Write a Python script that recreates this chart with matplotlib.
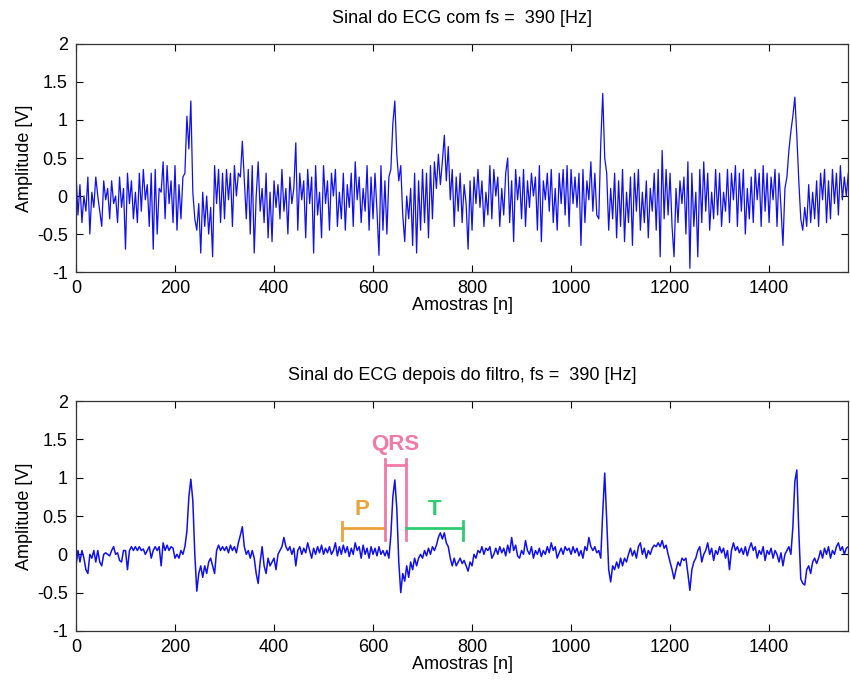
import numpy as np
import matplotlib
matplotlib.use("Agg")
import matplotlib.pyplot as plt

plt.rcParams["font.family"] = ["Liberation Sans", "DejaVu Sans"]

# sample index step used when reading the traces off the picture
step = 4

# raw ECG, one value every 4 samples (0 .. 1560)
raw = [
    0.30, -0.25, 0.15, -0.35, 0.00, -0.20, 0.25, -0.50, 0.05, -0.15, 0.25, 0.00, -0.20, -0.40, 0.20, -0.05, 0.10, -0.30, 0.20, -0.10, 0.00, -0.35, 0.25, -0.15, 0.10,
    -0.70, 0.30, -0.10, 0.20, -0.30, 0.05, -0.35, 0.30, -0.20, 0.35, -0.05, 0.15, -0.40, 0.30, -0.70, 0.35, -0.50, 0.10, 0.05, 0.45, -0.30, 0.40, -0.10, 0.20, -0.35,
    0.40, -0.45, 0.15, -0.30, 0.25, 0.30, 1.05, 0.62, 1.25, 0.05, -0.30, -0.45, -0.10, -0.75, 0.05, -0.40, 0.00, -0.50, -0.15, -0.80, 0.40, -0.10, 0.35, -0.35, 0.30,
    -0.30, 0.35, -0.05, 0.30, -0.40, 0.40, 0.00, 0.30, 0.25, 0.72, 0.20, -0.30, 0.35, -0.50, 0.40, -0.75, 0.00, 0.45, -0.20, 0.10, -0.35, 0.30, -0.55, 0.05, -0.60,
    0.20, -0.15, 0.15, -0.30, 0.35, -0.20, 0.10, -0.50, 0.25, -0.10, 0.10, 0.70, -0.45, 0.30, -0.05, 0.20, -0.55, 0.35, -0.10, 0.25, -0.75, 0.40, -0.25, 0.05, -0.55,
    0.40, -0.10, 0.20, -0.45, 0.30, 0.00, 0.35, -0.40, 0.05, -0.30, 0.30, -0.45, 0.15, -0.15, 0.30, -0.40, 0.45, -0.05, 0.25, -0.35, 0.10, -0.20, 0.40, -0.45, 0.25,
    -0.30, 0.30, -0.20, -0.78, 0.40, -0.45, 0.20, -0.50, 0.25, 0.35, 0.95, 1.25, 0.55, 0.20, 0.40, -0.25, -0.60, 0.00, -0.30, 0.10, -0.65, 0.30, -0.75, 0.20, -0.45,
    0.35, -0.35, 0.30, -0.55, 0.40, -0.30, 0.45, 0.10, 0.55, 0.15, 0.45, 0.80, 0.20, 0.65, -0.05, 0.35, -0.40, 0.25, -0.20, 0.30, -0.35, 0.15, -0.10, -0.70, 0.20,
    -0.45, 0.25, -0.10, 0.35, -0.15, 0.20, -0.40, 0.05, -0.25, 0.40, -0.30, 0.35, 0.00, 0.25, -0.40, 0.10, -0.25, 0.30, 0.50, -0.35, 0.20, -0.60, 0.35, -0.05, 0.25,
    -0.30, 0.35, -0.40, 0.20, -0.15, 0.30, 0.00, 0.25, -0.45, 0.40, -0.60, 0.20, -0.05, 0.30, -0.20, 0.35, -0.35, 0.10, -0.45, 0.30, -0.10, 0.35, -0.25, 0.40, -0.40,
    0.35, -0.10, 0.25, -0.15, 0.30, -0.65, 0.35, -0.35, 0.20, -0.05, 0.45, -0.20, 0.30, -0.25, -0.30, 0.70, 1.35, 0.50, 0.30, -0.45, 0.10, -0.30, 0.30, -0.55, 0.20,
    -0.40, 0.35, -0.60, 0.05, -0.35, 0.25, -0.65, 0.30, -0.20, 0.35, -0.45, 0.05, -0.35, 0.20, -0.55, 0.10, -0.20, 0.30, -0.45, 0.35, -0.80, 0.60, -0.30, 0.35, -0.25,
    0.30, -0.40, -0.80, 0.10, -0.35, 0.20, -0.10, 0.25, -0.50, 0.45, -0.95, 0.30, -0.40, 0.05, -0.80, 0.35, -0.35, 0.45, -0.20, 0.30, -0.45, 0.05, -0.30, 0.35, -0.25,
    0.30, -0.40, 0.05, -0.20, 0.35, -0.35, 0.30, -0.05, 0.40, -0.40, 0.30, -0.20, 0.35, -0.50, 0.10, -0.30, 0.25, -0.35, 0.35, -0.05, 0.30, -0.40, 0.40, -0.20, 0.30,
    -0.35, 0.25, -0.05, 0.35, -0.40, 0.30, -0.15, -0.65, 0.10, 0.25, 0.60, 0.85, 1.05, 1.30, 0.80, 0.20, -0.30, -0.45, -0.15, -0.40, 0.15, -0.35, 0.05, -0.30, 0.20,
    -0.40, 0.30, -0.05, 0.35, -0.35, 0.20, -0.30, 0.35, -0.10, 0.30, -0.25, 0.40, -0.05, 0.25, 0.00, 0.30,
]

# filtered ECG, same sampling
filt = [
    -0.15, 0.05, -0.10, 0.05, -0.05, -0.20, -0.25, 0.00, -0.05, 0.05, -0.10, 0.05, -0.10, -0.15, 0.00, 0.02, 0.00, -0.02, 0.05, 0.10, 0.00, 0.02, -0.08, -0.10, 0.05,
    0.05, -0.20, 0.05, 0.10, 0.05, 0.10, 0.05, 0.10, 0.05, 0.07, 0.00, 0.05, 0.10, -0.05, 0.05, 0.10, 0.05, 0.10, -0.15, 0.15, 0.05, 0.12, 0.05, 0.10, 0.08,
    -0.05, 0.00, -0.05, 0.05, 0.00, 0.10, 0.30, 0.75, 0.98, 0.70, 0.00, -0.48, -0.25, -0.15, -0.30, -0.15, -0.25, -0.10, -0.05, -0.15, -0.25, 0.05, 0.12, 0.05, 0.10,
    0.05, 0.10, 0.02, 0.12, 0.05, 0.10, 0.02, 0.15, 0.25, 0.36, 0.10, 0.00, 0.05, -0.05, 0.05, -0.05, -0.25, -0.38, -0.10, 0.10, -0.15, -0.25, -0.05, -0.15, -0.10,
    -0.05, -0.20, 0.00, 0.05, 0.10, 0.22, 0.10, 0.05, 0.10, 0.00, 0.08, -0.15, 0.05, 0.10, 0.00, 0.08, 0.02, 0.15, 0.05, -0.05, 0.08, 0.00, 0.10, 0.02, 0.12,
    0.00, 0.08, 0.02, 0.10, 0.00, 0.05, 0.15, -0.02, 0.10, 0.00, 0.12, 0.02, 0.10, -0.03, 0.08, 0.00, 0.15, 0.05, 0.10, -0.05, 0.12, 0.00, 0.08, -0.05, 0.10,
    0.00, 0.08, -0.02, 0.10, 0.00, 0.05, -0.02, 0.05, -0.05, 0.25, 0.75, 0.97, 0.60, -0.10, -0.50, -0.25, -0.35, -0.15, -0.30, -0.10, -0.20, -0.05, -0.15, -0.05, 0.00,
    -0.05, 0.05, -0.02, 0.08, 0.00, 0.10, 0.05, 0.12, 0.22, 0.28, 0.20, 0.28, 0.15, 0.10, -0.05, -0.15, -0.05, -0.15, -0.10, -0.05, -0.12, -0.08, -0.15, -0.22, -0.10,
    -0.15, 0.00, -0.05, 0.05, 0.02, 0.10, 0.00, 0.08, 0.05, 0.10, -0.05, 0.00, 0.08, 0.00, 0.10, 0.02, 0.08, -0.02, 0.12, 0.02, 0.22, 0.05, 0.12, -0.02, -0.05,
    0.05, 0.00, 0.18, 0.05, 0.00, 0.10, -0.05, 0.05, 0.00, 0.08, -0.03, 0.05, 0.00, 0.10, 0.02, 0.15, 0.05, 0.10, -0.05, 0.02, 0.08, 0.00, 0.10, 0.05, 0.08,
    0.00, 0.10, 0.02, 0.08, -0.02, 0.05, -0.05, 0.10, 0.05, 0.22, 0.10, 0.05, 0.10, 0.02, 0.05, -0.05, 0.55, 1.06, 0.45, -0.20, -0.36, -0.15, -0.20, -0.10, -0.18,
    -0.05, -0.15, -0.05, -0.10, 0.00, 0.08, -0.02, 0.05, -0.05, 0.10, 0.15, 0.00, 0.08, -0.05, 0.05, 0.00, 0.08, 0.12, 0.10, 0.15, 0.10, 0.18, 0.08, 0.12, 0.00,
    -0.10, -0.20, -0.32, -0.20, -0.10, -0.15, -0.05, -0.08, -0.05, -0.25, -0.47, -0.20, -0.10, -0.05, 0.05, 0.10, -0.10, 0.00, 0.05, 0.15, 0.00, 0.08, -0.08, 0.05, 0.00,
    0.10, 0.02, 0.08, -0.05, 0.05, -0.20, 0.05, 0.15, 0.05, 0.10, 0.02, 0.08, 0.00, 0.10, -0.02, 0.08, 0.15, 0.05, 0.10, -0.05, 0.05, 0.00, 0.10, -0.08, 0.05,
    0.00, 0.08, -0.05, 0.05, 0.00, -0.10, 0.02, -0.15, 0.00, 0.05, 0.10, 0.00, 0.35, 0.95, 1.10, 0.30, -0.32, -0.38, -0.40, -0.20, -0.15, -0.25, -0.10, -0.05, -0.12,
    -0.05, 0.05, -0.05, 0.08, 0.00, 0.10, -0.05, 0.05, 0.00, 0.10, 0.15, 0.05, 0.10, 0.00, 0.08, 0.10,
]

fs = 390
n = np.arange(len(raw)) * step

yticks = [-1, -0.5, 0, 0.5, 1, 1.5, 2]
ytick_labels = ["-1", "-0.5", "0", "0.5", "1", "1.5", "2"]
xticks = [0, 200, 400, 600, 800, 1000, 1200, 1400]

# wave segment markers (sample positions, level)
p_span = (537, 623)
qrs_span = (624, 666)
t_span = (666, 781)
seg_level = 0.34

c_p = "#e8a33c"
c_qrs = "#f07aa8"
c_t = "#2ecc71"

fs_txt = 13

fig = plt.figure(figsize=(8.5, 6.84), dpi=100)
ax1 = fig.add_axes([0.0894, 0.6023, 0.9086, 0.3334])
ax2 = fig.add_axes([0.0894, 0.0775, 0.9086, 0.3362])


def style(ax, title):
    ax.set_xlim(0, 1560)
    ax.set_ylim(-1, 2)
    ax.set_yticks(yticks)
    ax.set_yticklabels(ytick_labels)
    ax.set_xticks(xticks)
    ax.tick_params(direction="in", top=True, right=True, length=5, labelsize=fs_txt, pad=6)
    ax.set_xlabel("Amostras [n]", fontsize=fs_txt, labelpad=0)
    ax.set_ylabel("Amplitude [V]", fontsize=fs_txt, labelpad=3)
    ax.set_title(title, fontsize=fs_txt, pad=15)
    for s in ax.spines.values():
        s.set_linewidth(0.9)
        s.set_color("#333333")


ax1.plot(n, raw, color="#1010ee", lw=0.9)
style(ax1, "Sinal do ECG com fs =  %d [Hz]" % fs)

ax2.plot(n, filt, color="#1010ee", lw=1.1)
style(ax2, "Sinal do ECG depois do filtro, fs =  %d [Hz]" % fs)

# P segment
ax2.plot(p_span, [seg_level, seg_level], color=c_p, lw=2)
ax2.plot([p_span[0], p_span[0]], [0.19, 0.42], color=c_p, lw=2)
ax2.text(sum(p_span) / 2 - 3, 0.45, "P", color=c_p, fontsize=16, fontweight="bold",
         ha="center", va="bottom")

# QRS segment
ax2.plot([qrs_span[0], qrs_span[0]], [0.19, 1.25], color=c_qrs, lw=2)
ax2.plot([qrs_span[1], qrs_span[1]], [0.19, 1.25], color=c_qrs, lw=2)
ax2.plot(qrs_span, [1.17, 1.17], color=c_qrs, lw=2)
ax2.text(sum(qrs_span) / 2, 1.29, "QRS", color=c_qrs, fontsize=16, fontweight="bold",
         ha="center", va="bottom")

# T segment
ax2.plot(t_span, [seg_level, seg_level], color=c_t, lw=2)
ax2.plot([t_span[1], t_span[1]], [0.19, 0.44], color=c_t, lw=2)
ax2.text(sum(t_span) / 2, 0.45, "T", color=c_t, fontsize=16, fontweight="bold",
         ha="center", va="bottom")

fig.savefig("out.png", dpi=100)
